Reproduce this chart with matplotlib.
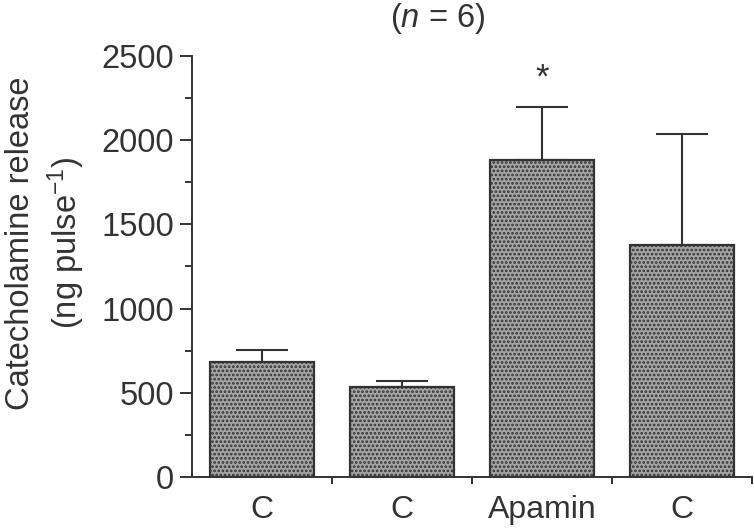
import matplotlib
matplotlib.use("Agg")
import matplotlib.pyplot as plt
import numpy as np

# data
groups = ["C", "C", "Apamin", "C"]
release = [683, 537, 1882, 1379]
sem = [74, 32, 316, 657]
signif = ["", "", "*", ""]

plt.rcParams["font.family"] = ["Liberation Sans", "DejaVu Sans"]
plt.rcParams["mathtext.fontset"] = "custom"
plt.rcParams["mathtext.rm"] = "Liberation Sans"
plt.rcParams["mathtext.it"] = "Liberation Sans:italic"
plt.rcParams["hatch.color"] = "#4a4a4a"
plt.rcParams["hatch.linewidth"] = 1.3
ink = "#333333"

fig = plt.figure(figsize=(7.54, 5.28), dpi=100)
ax = fig.add_axes([0.2546, 0.0966, 0.7427, 0.7974])

x = np.arange(len(groups))
ax.bar(x, release, width=0.74, color="#a4a4a4", edgecolor=ink, linewidth=1.6,
       hatch="....", zorder=2)
ax.errorbar(x, release, yerr=[np.zeros(len(sem)), sem], fmt="none",
            ecolor=ink, elinewidth=1.5, capsize=19, capthick=1.5, zorder=1)

for xi, v, e, s in zip(x, release, sem, signif):
    if s:
        ax.text(xi, v + e + 70, s, ha="center", va="bottom", fontsize=25, color=ink)

ax.set_xlim(-0.5, 3.5)
ax.set_ylim(0, 2500)
ax.set_yticks(np.arange(0, 2501, 500))
ax.set_yticks(np.arange(250, 2500, 500), minor=True)
ax.set_xticks(x)
ax.set_xticklabels(groups)
ax.set_xticks(x + 0.5, minor=True)

ax.tick_params(axis="y", which="major", length=9, width=1.4, colors=ink, labelsize=23.5, pad=4)
ax.tick_params(axis="y", which="minor", length=5, width=1.4, colors=ink)
ax.tick_params(axis="x", which="major", length=0, colors=ink, labelsize=23, pad=13)
ax.tick_params(axis="x", which="minor", length=5, width=1.4, colors=ink)

for side in ["top", "right"]:
    ax.spines[side].set_visible(False)
for side in ["left", "bottom"]:
    ax.spines[side].set_color(ink)
    ax.spines[side].set_linewidth(1.4)

fig.text(46 / 754, 1 - 243 / 528, "Catecholamine release\n(ng pulse$^{-1}$)",
         rotation=90, ha="center", va="center", multialignment="center",
         fontsize=23.5, color=ink, linespacing=1.28)
fig.text(0.58, 0.965, "($n$ = 6)", ha="center", va="center", fontsize=23.5, color=ink)

fig.savefig("out.png", dpi=100)
